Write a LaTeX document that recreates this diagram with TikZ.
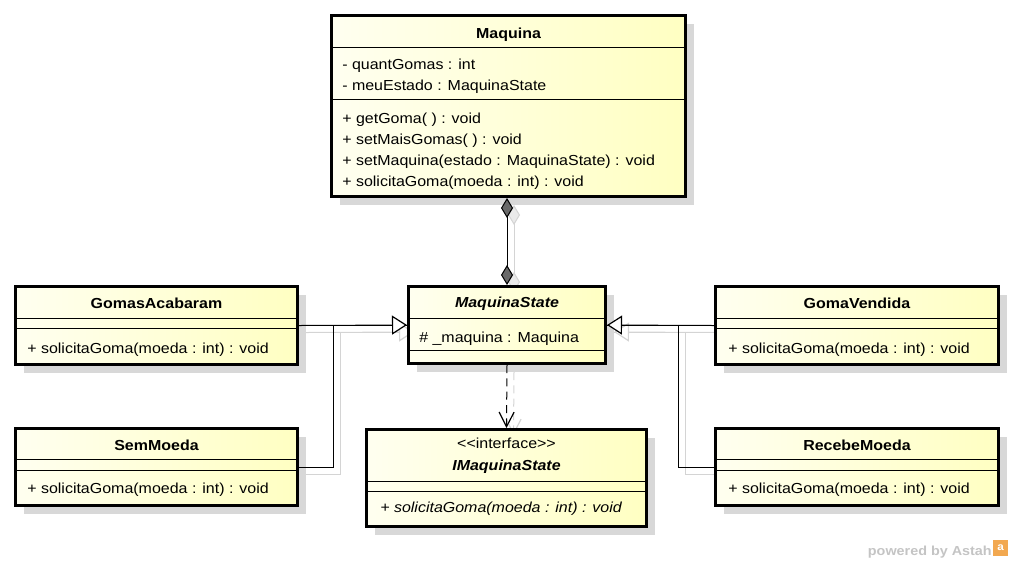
\documentclass[tikz,border=0pt]{standalone}
\usepackage{fontspec}
\setmainfont{Liberation Sans}[FakeStretch=1.1]
\usetikzlibrary{fit,shadows,arrows.meta}
\definecolor{boxL}{RGB}{255,255,240}
\definecolor{boxR}{RGB}{255,255,194}
\definecolor{shad}{RGB}{216,216,216}
\definecolor{lshad}{RGB}{212,212,212}
\definecolor{dia}{RGB}{105,105,105}
\definecolor{wm}{RGB}{196,196,196}
\definecolor{astahO}{RGB}{242,168,80}
\pgfdeclarelayer{bg}
\pgfsetlayers{bg,main}
\tikzset{
  classbox/.style={draw, line width=2.25pt, inner sep=0pt, left color=boxL, right color=boxR,
    drop shadow={shadow xshift=6pt, shadow yshift=-6pt, fill=shad, opacity=1}},
  sep/.style={line width=0.75pt},
  txt/.style={font=\fontsize{10.9pt}{13pt}\selectfont, inner sep=0pt, anchor=base west},
  ttl/.style={font=\fontsize{10.9pt}{13pt}\selectfont\bfseries, inner sep=0pt, anchor=base},
  conn/.style={line width=0.75pt},
  gen/.style={conn, arrows={-Triangle[fill=white, length=11.25pt, width=14.25pt, line width=0.9pt]}},
  dep/.style={conn, dash pattern=on 6pt off 4pt, arrows={-Straight Barb[length=11pt, width=11.25pt, line width=0.9pt]}},
  comp/.style={conn, arrows={Diamond[length=15pt, width=9pt, fill=dia]-Diamond[length=15pt, width=9pt, fill=dia]}},
  ghost/.style={draw=lshad, transform canvas={xshift=5.25pt, yshift=-5.25pt}},
  compghost/.style={conn, draw=lshad, arrows={Diamond[length=15pt, width=9pt, fill=lshad!50]-Diamond[length=15pt, width=9pt, fill=lshad!50]}},
}
\begin{document}
\begin{tikzpicture}[x=0.75pt,y=-0.75pt]
\useasboundingbox (0,0) rectangle (1013,562);

% ---------- class boxes ----------
\node[classbox, fit={(331.5,15.5)(685.5,196.5)}] (maq) {};
\draw[sep] (maq.west |- 0,47) -- (maq.east |- 0,47);
\draw[sep] (maq.west |- 0,99) -- (maq.east |- 0,99);
\node[ttl] (maqT) at (508.5,38) {Maquina};
\node[txt] (maqA1) at (342,69) {- quantGomas : int};
\node[txt] (maqA2) at (342,90) {- meuEstado : MaquinaState};
\node[txt] (maqM1) at (342,123) {+ getGoma( ) : void};
\node[txt] (maqM2) at (342,144) {+ setMaisGomas( ) : void};
\node[txt] (maqM3) at (342,165) {+ setMaquina(estado : MaquinaState) : void};
\node[txt] (maqM4) at (342,186) {+ solicitaGoma(moeda : int) : void};

\node[classbox, fit={(408.5,286.5)(605.5,363.5)}] (ms) {};
\draw[sep] (ms.west |- 0,318) -- (ms.east |- 0,318);
\draw[sep] (ms.west |- 0,350) -- (ms.east |- 0,350);
\node[ttl, font=\fontsize{10.9pt}{13pt}\selectfont\bfseries\itshape] (msT) at (507,307) {MaquinaState};
\node[txt] (msA1) at (419,342) {\# \_maquina : Maquina};

\node[classbox, fit={(15.5,286.5)(297.5,364.5)}] (ga) {};
\draw[sep] (ga.west |- 0,318) -- (ga.east |- 0,318);
\draw[sep] (ga.west |- 0,328) -- (ga.east |- 0,328);
\node[ttl] (gaT) at (156.5,308) {GomasAcabaram};
\node[txt] (gaM1) at (27,353) {+ solicitaGoma(moeda : int) : void};

\node[classbox, fit={(15.5,428.5)(297.5,505.5)}] (sm) {};
\draw[sep] (sm.west |- 0,459) -- (sm.east |- 0,459);
\draw[sep] (sm.west |- 0,470) -- (sm.east |- 0,470);
\node[ttl] (smT) at (156.5,450) {SemMoeda};
\node[txt] (smM1) at (27,493) {+ solicitaGoma(moeda : int) : void};

\node[classbox, fit={(715.5,286.5)(998.5,364.5)}] (gv) {};
\draw[sep] (gv.west |- 0,318) -- (gv.east |- 0,318);
\draw[sep] (gv.west |- 0,328) -- (gv.east |- 0,328);
\node[ttl] (gvT) at (857,308) {GomaVendida};
\node[txt] (gvM1) at (728,353) {+ solicitaGoma(moeda : int) : void};

\node[classbox, fit={(715.5,428.5)(998.5,505.5)}] (rm) {};
\draw[sep] (rm.west |- 0,459) -- (rm.east |- 0,459);
\draw[sep] (rm.west |- 0,470) -- (rm.east |- 0,470);
\node[ttl] (rmT) at (857,450) {RecebeMoeda};
\node[txt] (rmM1) at (728,493) {+ solicitaGoma(moeda : int) : void};

\node[classbox, fit={(366.5,429.5)(646.5,526.5)}] (ims) {};
\draw[sep] (ims.west |- 0,481) -- (ims.east |- 0,481);
\draw[sep] (ims.west |- 0,491) -- (ims.east |- 0,491);
\node[ttl, font=\fontsize{10.9pt}{13pt}\selectfont] (imsS) at (506.5,448) {<{}<interface>{}>};
\node[ttl, font=\fontsize{10.9pt}{13pt}\selectfont\bfseries\itshape] (imsT) at (506.5,470) {IMaquinaState};
\node[txt, font=\fontsize{10.9pt}{13pt}\selectfont\itshape] (imsM1) at (380,512) {+ solicitaGoma(moeda : int) : void};

% ---------- connector shadows ----------
\begin{pgfonlayer}{bg}
\draw[compghost, ghost] (maq.south -| ms.north) -- (ms.north);
\draw[conn, ghost] (sm.east) -- ++(34,0) |- (ms.west);
\draw[gen, ghost] (ga.east) -- (ms.west);
\draw[conn, ghost] (rm.west) -- ++(-36,0) |- (ms.east);
\draw[gen, ghost] (gv.west) -- (ms.east);
\draw[dep, ghost] (ms.south) -- (ims.north);
\end{pgfonlayer}

% ---------- connectors ----------
\draw[comp] (maq.south -| ms.north) -- (ms.north);
\draw[conn] (sm.east) -- ++(34,0) |- (ms.west);
\draw[gen] (ga.east) -- (ms.west);
\draw[conn] (rm.west) -- ++(-36,0) |- (ms.east);
\draw[gen] (gv.west) -- (ms.east);
\draw[dep] (ms.south) -- (ims.north);

% ---------- watermark ----------
\node[font=\fontsize{9.8pt}{12pt}\selectfont\bfseries, text=wm, inner sep=0pt, anchor=base east] (wmark) at (992,555) {powered by Astah};
\node[fill=astahO, minimum width=11pt, minimum height=12pt, inner sep=0pt, anchor=west,
      font=\fontsize{8pt}{8pt}\selectfont\bfseries, text=white] (logo) at (993,548) {a};
\end{tikzpicture}
\end{document}
